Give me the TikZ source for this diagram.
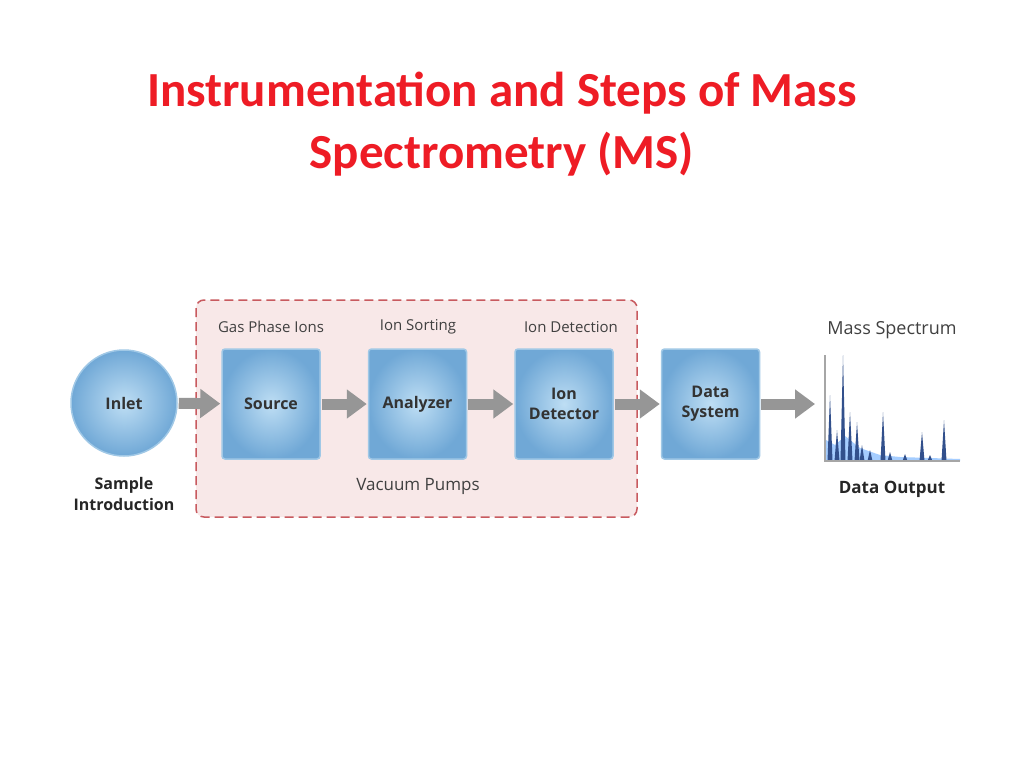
\documentclass[tikz,border=0pt]{standalone}
\usepackage{fontspec}
\setmainfont{Carlito}
\newfontfamily\diagfont{Open Sans}
\usetikzlibrary{positioning, arrows.meta}
\definecolor{titlered}{RGB}{238,28,37}
\definecolor{boxin}{RGB}{190,222,244}
\definecolor{boxout}{RGB}{112,168,214}
\definecolor{boxline}{RGB}{160,200,230}
\definecolor{pinkfill}{RGB}{248,232,232}
\definecolor{pinkline}{RGB}{200,90,95}
\definecolor{arrowgray}{RGB}{150,150,150}
\definecolor{peakblue}{RGB}{50,80,140}
\begin{document}
\begin{tikzpicture}[x=1pt, y=-1pt,
        stage/.style = {draw=boxline, line width=1.5pt, rounded corners=3pt, inner color=boxin, outer color=boxout,
                        minimum width=98pt, minimum height=110pt, align=center, font=\diagfont\fontsize{16}{20}\selectfont\bfseries, text=black!80},
        arrow/.style = {draw=arrowgray, line width=11pt, -{Triangle[length=20pt, width=28pt]}, shorten <=1pt, shorten >=1pt},
        tag/.style = {font=\diagfont\fontsize{15}{18}\selectfont, text=black!75},
        bold/.style = {font=\diagfont\fontsize{17}{20}\selectfont\bfseries, text=black!85, align=center}
    ]
        \useasboundingbox (0,0) rectangle (1024,768);
        \fill[white] (0,0) rectangle (1024,768);
        % title
        \node[text=titlered, font=\fontsize{49}{62}\selectfont\bfseries, align=center] (title) at (502,124) {Instrumentation and Steps of Mass\\Spectrometry (MS)};
        % vacuum region
        \draw[pinkline, fill=pinkfill, dashed, dash pattern=on 9pt off 5pt, line width=1.5pt, rounded corners=8pt] (196,300) rectangle (637,517);
        % stages
        \node[draw=boxline, line width=1.5pt, circle, inner color=boxin, outer color=boxout, minimum size=106pt,
              font=\diagfont\fontsize{16}{20}\selectfont\bfseries, text=black!80] (inlet) at (124,403) {Inlet};
        \node[stage] (source) at (271,404) {Source};
        \node[stage, right=47pt of source] (analyzer) {Analyzer};
        \node[stage, right=47pt of analyzer] (detector) {Ion\\Detector};
        \node[stage, right=47pt of detector] (datasys) {Data\\System};
        \coordinate (spec) at (816,404);

        \draw[arrow] (inlet) -- (source);
        \draw[arrow] (source) -- (analyzer);
        \draw[arrow] (analyzer) -- (detector);
        \draw[arrow] (detector) -- (datasys);
        \draw[arrow] (datasys) -- (spec);

        % labels
        \node[tag] (gas) at (271,327) {Gas Phase Ions};
        \node[tag] (sorting) at (418,327) {Ion Sorting};
        \node[tag] (detection) at (571,327) {Ion Detection};
        \node[tag, font=\diagfont\fontsize{17}{20}\selectfont] (vacuum) at (418,486) {Vacuum Pumps};
        \node[bold, font=\diagfont\fontsize{16}{21}\selectfont\bfseries] (sample) at (124,494) {Sample\\Introduction};
        \node[tag, font=\diagfont\fontsize{18}{20}\selectfont] (masspec) at (892,330) {Mass Spectrum};
        \node[bold] (output) at (892,489) {Data Output};

        % spectrum
        \fill[blue!55!cyan!70, opacity=0.5] (826,461) -- (826,440) -- (835,445) -- (845,436) -- (860,448) -- (880,455) -- (900,457) -- (960,459) -- (960,461) -- cycle;
        \foreach \px/\py in {830/395, 837/430, 843/355, 850/412, 857/422, 862/445, 870/450, 883/412, 890/452, 905/454, 922/432, 930/455, 944/420}
            \fill[peakblue] (\px-2.5,461) -- (\px,\py) -- (\px+2.5,461) -- cycle;
        \draw[gray!70, line width=1.5pt] (825,355) -- (825,461) -- (960,461);
    \end{tikzpicture}
\end{document}
